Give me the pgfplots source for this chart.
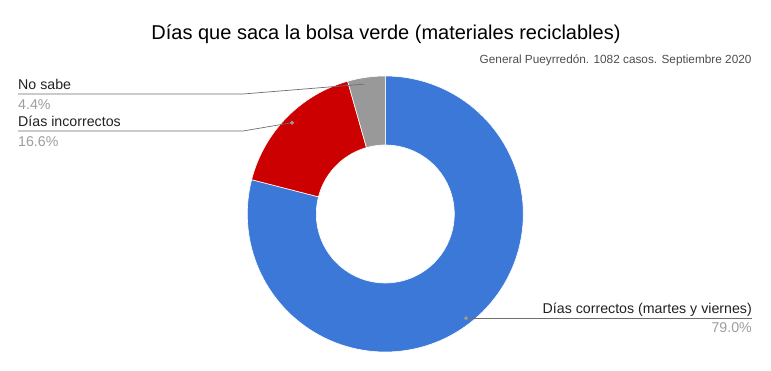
\documentclass[border=0pt]{standalone}
\usepackage{pgfplots}
\pgfplotsset{compat=1.18}
\usepackage{fontspec}
\setmainfont{Liberation Sans}
\definecolor{cBlue}{HTML}{3C78D8}
\definecolor{cRed}{HTML}{CC0000}
\definecolor{cGray}{HTML}{999999}
\definecolor{cLine}{HTML}{6E6E6E}
\definecolor{cPct}{HTML}{9E9E9E}
\definecolor{cTxt}{HTML}{222222}
% data (percent)
\def\vA{79.0}
\def\vB{16.6}
\def\vC{4.4}
\pgfmathsetmacro\aA{90}
\pgfmathsetmacro\bA{90-3.6*\vA}
\pgfmathsetmacro\bB{\bA-3.6*\vB}
\pgfmathsetmacro\bC{\bB-3.6*\vC}
\def\cx{385.3}
\def\cy{214}
\def\ro{138}
\def\ri{69}
\newcommand{\ring}[3]{%
  \addplot[fill=#3, draw=white, line width=0.6pt, domain=0:3, samples=361, variable=\t]
   ({\cx+(\ro-(\ro-\ri)*min(max(\t-1,0),1))*cos(#1+(#2-#1)*min(\t,1)-(#2-#1)*max(\t-2,0))},
    {\cy-(\ro-(\ro-\ri)*min(max(\t-1,0),1))*sin(#1+(#2-#1)*min(\t,1)-(#2-#1)*max(\t-2,0))}) -- cycle;}
\begin{document}
\begin{tikzpicture}
\begin{axis}[x=1pt, y=1pt, xmin=0, xmax=771, ymin=0, ymax=371, y dir=reverse,
  scale only axis, hide axis, clip=false]
\addplot[draw=none, fill=white] coordinates {(0,0) (771,0) (771,371) (0,371)} -- cycle;
\ring{\aA}{\bA}{cBlue}
\ring{\bA}{\bB}{cRed}
\ring{\bB}{\bC}{cGray}
% leader lines
\addplot[cLine, line width=0.7pt] coordinates {(18,94) (243,94) (366,84)};
\addplot[cLine, line width=0.7pt] coordinates {(18,131) (243,131) (292,122.7)};
\addplot[cLine, line width=0.7pt] coordinates {(466,318.3) (752,318.3)};
\addplot[only marks, mark=*, mark size=1.8pt, color=cGray] coordinates {(366,84) (292,122.7) (466,318.3)};
% texts
\node[anchor=base, font=\fontsize{20}{24}\selectfont, text=black, inner sep=0pt] at (axis cs:386,39.3) {Días que saca la bolsa verde (materiales reciclables)};
\node[anchor=base east, font=\fontsize{11.8}{14}\selectfont, text=cTxt!80, inner sep=0pt] at (axis cs:751.7,63.7) {General Pueyrredón. 1082 casos. Septiembre 2020};
\node[anchor=base west, font=\fontsize{14.2}{16}\selectfont, text=cTxt, inner sep=0pt] at (axis cs:18,89.3) {No sabe};
\node[anchor=base west, font=\fontsize{14.2}{16}\selectfont, text=cPct, inner sep=0pt] at (axis cs:18,109.3) {4.4\%};
\node[anchor=base west, font=\fontsize{14.2}{16}\selectfont, text=cTxt, inner sep=0pt] at (axis cs:18,126.7) {Días incorrectos};
\node[anchor=base west, font=\fontsize{14.2}{16}\selectfont, text=cPct, inner sep=0pt] at (axis cs:18,146.7) {16.6\%};
\node[anchor=base east, font=\fontsize{14.2}{16}\selectfont, text=cTxt, inner sep=0pt] at (axis cs:752,313.3) {Días correctos (martes y viernes)};
\node[anchor=base east, font=\fontsize{14.2}{16}\selectfont, text=cPct, inner sep=0pt] at (axis cs:752,332.3) {79.0\%};
\end{axis}
\end{tikzpicture}
\end{document}
